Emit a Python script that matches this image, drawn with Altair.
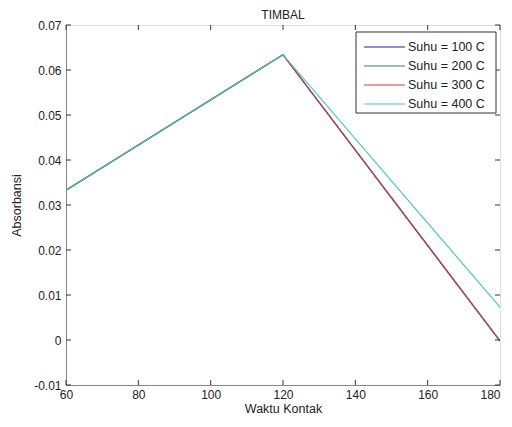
import altair as alt
import pandas as pd

waktu = [60, 120, 180]
series = ["Suhu = 100 C", "Suhu = 200 C", "Suhu = 300 C", "Suhu = 400 C"]
values = [
    [0.0333, 0.0634, -0.0002],
    [0.0333, 0.0634, -0.0002],
    [0.0333, 0.0634, -0.0002],
    [0.0333, 0.0634, 0.0073],
]
colors = ["#2323a8", "#2e8b3e", "#c8404e", "#4cc4c4"]
x_ticks = [60, 80, 100, 120, 140, 160, 180]
y_ticks = [-0.01, 0.0, 0.01, 0.02, 0.03, 0.04, 0.05, 0.06, 0.07]

rows = []
for s, vals in zip(series, values):
    for w, v in zip(waktu, vals):
        rows.append({"Waktu": w, "Absorbansi": v, "Seri": s})
df = pd.DataFrame(rows)
xt = pd.DataFrame({"t": x_ticks})
yt = pd.DataFrame({"t": y_ticks})
leg = pd.DataFrame({"Seri": series})
box = pd.DataFrame({"k": [0]})

W, H = 434, 360
FONT = "Liberation Sans"

xscale = alt.Scale(domain=[60, 180], nice=False, zero=False)
yscale = alt.Scale(domain=[-0.01, 0.07], nice=False, zero=False)
cscale = alt.Scale(domain=series, range=colors)

common = dict(ticks=False, grid=False, labelFlush=False, labelOverlap=False,
              labelFont=FONT, titleFont=FONT, labelFontSize=12, titleFontSize=12.5,
              labelColor="#222222", titleColor="#222222",
              titleFontWeight="normal", domainColor="#888888")

lines = alt.Chart(df).mark_line(strokeWidth=1.2, clip=True).encode(
    x=alt.X("Waktu:Q", scale=xscale, title="Waktu Kontak",
            axis=alt.Axis(values=x_ticks, labelPadding=4, titlePadding=2,
                          labelAlign=alt.condition("datum.value == 180", alt.value("right"), alt.value("center")),
                          **common)),
    y=alt.Y("Absorbansi:Q", scale=yscale, title="Absorbansi",
            axis=alt.Axis(values=y_ticks, labelPadding=5, titlePadding=10,
                          labelExpr="datum.value == 0 ? '0' : replace(format(datum.value, '.2f'), '\u2212', '-')",
                          **common)),
    color=alt.Color("Seri:N", scale=cscale, legend=None),
)

tick_len = 5
bottom = alt.Chart(xt).mark_rule(color="#333333").encode(
    x=alt.X("t:Q", scale=xscale), y=alt.value(H), y2=alt.value(H - tick_len))
top = alt.Chart(xt).mark_rule(color="#333333").encode(
    x=alt.X("t:Q", scale=xscale), y=alt.value(0), y2=alt.value(tick_len))
left = alt.Chart(yt).mark_rule(color="#333333").encode(
    y=alt.Y("t:Q", scale=yscale, axis=None), x=alt.value(0), x2=alt.value(tick_len))
right = alt.Chart(yt).mark_rule(color="#333333").encode(
    y=alt.Y("t:Q", scale=yscale, axis=None), x=alt.value(W), x2=alt.value(W - tick_len))

# manual legend
lscale = alt.Scale(type="point", domain=series, range=[22, 79], padding=0)
leg_box = alt.Chart(box).mark_rect(fill="white", stroke="#333333", strokeWidth=1).encode(
    x=alt.value(290), x2=alt.value(430), y=alt.value(7), y2=alt.value(88))
leg_lines = alt.Chart(leg).mark_rule(strokeWidth=1.2).encode(
    y=alt.Y("Seri:N", scale=lscale, axis=None),
    x=alt.value(298), x2=alt.value(339),
    color=alt.Color("Seri:N", scale=cscale, legend=None))
leg_text = alt.Chart(leg).mark_text(align="left", baseline="middle", font=FONT,
                                    fontSize=12.5, color="#222222").encode(
    y=alt.Y("Seri:N", scale=lscale, axis=None),
    x=alt.value(342), text="Seri:N")

chart = alt.layer(lines, bottom, top, left, right, leg_box, leg_lines, leg_text).resolve_scale(
    y="independent"
).properties(
    width=W, height=H,
    title=alt.Title("TIMBAL", fontSize=12, fontWeight="normal", font=FONT,
                    color="#222222", offset=0, dy=3, anchor="middle"),
    autosize=alt.AutoSizeParams(type="none"),
    padding={"left": 58, "top": 17, "right": 4, "bottom": 34},
).configure_view(stroke="#444444", strokeWidth=1).configure(background="white")

chart.save("out.html", embed_options={"renderer": "svg", "actions": False})
